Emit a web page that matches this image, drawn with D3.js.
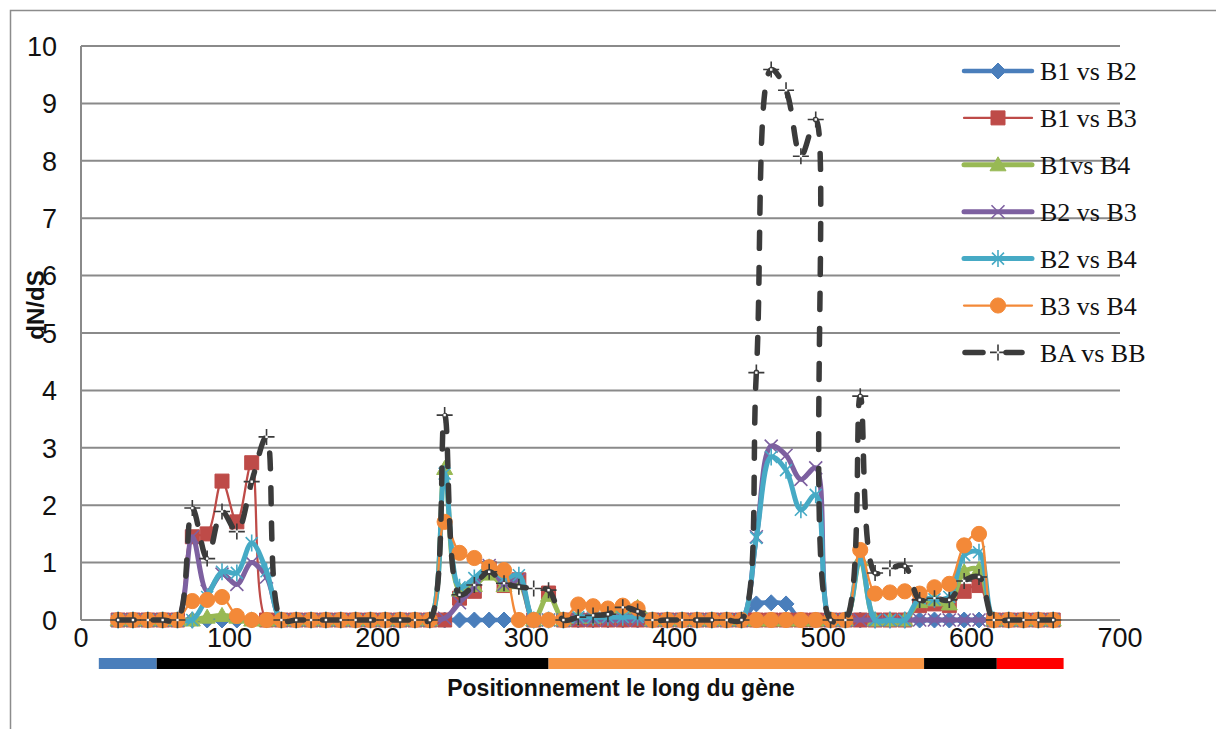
<!DOCTYPE html>
<html>
<head>
<meta charset="utf-8">
<script src="https://cdn.jsdelivr.net/npm/d3@7"></script>
<style>
  body { margin: 0; background: #fff; }
  svg { display: block; }
</style>
</head>
<body>
<svg id="chart" width="1216" height="729"></svg>
<script>
// Window centres along the gene (codon position)
const positions = [
  25, 35, 45, 55, 65, 75, 85, 95, 105, 115,
  125, 135, 145, 155, 165, 175, 185, 195, 205, 215,
  225, 235, 245, 255, 265, 275, 285, 295, 305, 315,
  325, 335, 345, 355, 365, 375, 385, 395, 405, 415,
  425, 435, 445, 455, 465, 475, 485, 495, 505, 515,
  525, 535, 545, 555, 565, 575, 585, 595, 605, 615,
  625, 635, 645, 655
];

// dN/dS per window for each pairwise comparison
const b1b2 = [
  0, 0, 0, 0, 0, 0, 0, 0, 0, 0,
  0, 0, 0, 0, 0, 0, 0, 0, 0, 0,
  0, 0, 0, 0, 0, 0, 0, 0, 0, 0,
  0, 0, 0, 0, 0, 0, 0, 0, 0, 0,
  0, 0, 0, 0.28, 0.3, 0.28, 0, 0, 0, 0,
  0, 0, 0, 0, 0, 0, 0, 0, 0, 0,
  0, 0, 0, 0
];
const b1b3 = [
  0, 0, 0, 0, 0, 1.45, 1.5, 2.42, 1.71, 2.74,
  0, 0, 0, 0, 0, 0, 0, 0, 0, 0,
  0, 0, 0, 0.38, 0.5, 0.9, 0.6, 0.7, 0, 0.47,
  0, 0, 0, 0, 0, 0, 0, 0, 0, 0,
  0, 0, 0, 0, 0, 0, 0, 0, 0, 0,
  0, 0, 0, 0, 0.25, 0.28, 0.25, 0.5, 0.6, 0,
  0, 0, 0, 0
];
const b1b4 = [
  0, 0, 0, 0, 0, 0, 0.05, 0.08, 0.05, 0,
  0, 0, 0, 0, 0, 0, 0, 0, 0, 0,
  0, 0, 2.64, 0.52, 0.6, 0.8, 0.6, 0.65, 0, 0.43,
  0, 0.05, 0.05, 0.1, 0.22, 0.22, 0, 0, 0, 0,
  0, 0, 0, 0, 0, 0, 0, 0, 0, 0,
  1.05, 0, 0, 0, 0.32, 0.35, 0.28, 0.84, 0.88, 0,
  0, 0, 0, 0
];
const b2b3 = [
  0, 0, 0, 0, 0, 1.45, 0.5, 0.8, 0.62, 1.0,
  0.75, 0, 0, 0, 0, 0, 0, 0, 0, 0,
  0, 0, 0.03, 0.3, 0.58, 0.95, 0.62, 0.7, 0, 0,
  0, 0, 0, 0, 0, 0, 0, 0, 0, 0,
  0, 0, 0, 1.45, 3.03, 2.87, 2.45, 2.65, 0, 0,
  0, 0, 0, 0, 0, 0, 0, 0, 0, 0,
  0, 0, 0, 0
];
const b2b4 = [
  0, 0, 0, 0, 0, 0, 0.4, 0.84, 0.82, 1.34,
  0.85, 0, 0, 0, 0, 0, 0, 0, 0, 0,
  0, 0, 2.55, 0.57, 0.73, 0.92, 0.73, 0.78, 0, 0,
  0, 0.05, 0.05, 0.05, 0.05, 0.05, 0, 0, 0, 0,
  0, 0, 0, 1.43, 2.84, 2.61, 1.92, 2.18, 0, 0,
  1.1, 0, 0, 0, 0.38, 0.36, 0.4, 1.13, 1.18, 0,
  0, 0, 0, 0
];
const b3b4 = [
  0, 0, 0, 0, 0, 0.33, 0.35, 0.4, 0.07, 0,
  0, 0, 0, 0, 0, 0, 0, 0, 0, 0,
  0, 0, 1.71, 1.17, 1.08, 0.92, 0.87, 0, 0, 0,
  0, 0.27, 0.24, 0.2, 0.25, 0.2, 0, 0, 0, 0,
  0, 0, 0, 0, 0, 0, 0, 0, 0, 0,
  1.22, 0.46, 0.48, 0.5, 0.46, 0.57, 0.63, 1.3, 1.5, 0,
  0, 0, 0, 0
];
const babb = [
  0, 0, 0, 0, 0, 1.95, 1.07, 1.89, 1.54, 2.41,
  3.19, 0, 0, 0, 0, 0, 0, 0, 0, 0,
  0, 0, 3.57, 0.44, 0.61, 0.84, 0.64, 0.58, 0.55, 0.52,
  0, 0.05, 0.08, 0.1, 0.22, 0.15, 0, 0, 0, 0,
  0, 0, 0, 4.31, 9.59, 9.23, 8.08, 8.72, 0, 0,
  3.9, 0.82, 0.9, 0.94, 0.35, 0.38, 0.35, 0.68, 0.75, 0,
  0, 0, 0, 0
];

const seriesNames = ["B1 vs B2", "B1 vs B3", "B1vs B4", "B2 vs B3", "B2 vs B4", "B3 vs B4", "BA vs BB"];
const seriesValues = [b1b2, b1b3, b1b4, b2b3, b2b4, b3b4, babb];

// Axis ticks
const xTicks = [0, 100, 200, 300, 400, 500, 600, 700];
const yTicks = [0, 1, 2, 3, 4, 5, 6, 7, 8, 9, 10];

// Gene regions drawn under the axis (start, end in codons)
const regionStart = [12, 51, 315, 568, 617];
const regionEnd   = [51, 315, 568, 617, 662];
const regionKind  = [0, 1, 2, 1, 3];

// ---------- styling ----------
const styles = [
  { color: "#4a7ebb", width: 4.5, marker: "diamond" },
  { color: "#be4b48", width: 2.25, marker: "square" },
  { color: "#98b954", width: 5, marker: "triangle" },
  { color: "#7d60a0", width: 5, marker: "x" },
  { color: "#46aac5", width: 5, marker: "star" },
  { color: "#f38938", width: 2.25, marker: "circle" },
  { color: "#3b3b3b", width: 5.5, marker: "plus", dash: "16,19" }
];
const regionColor = d3.scaleOrdinal().domain([0, 1, 2, 3])
  .range(["#4a7ebb", "#000000", "#f79646", "#ff0000"]);

const svg = d3.select("#chart");
const x = d3.scaleLinear().domain([0, 700]).range([81, 1120]);
const y = d3.scaleLinear().domain([0, 10]).range([620, 46]);
const gridColor = "#8a8a8a";

// outer frame
svg.append("path")
  .attr("d", "M10.5,729 V10.5 H1216")
  .attr("fill", "none").attr("stroke", "#8c8c8c").attr("stroke-width", 1.5);

// horizontal gridlines
svg.append("g").selectAll("line")
  .data(yTicks.filter(d => d > 0)).join("line")
  .attr("x1", x(0)).attr("x2", x(700))
  .attr("y1", d => y(d)).attr("y2", d => y(d))
  .attr("stroke", gridColor).attr("stroke-width", 2);

// axes lines
svg.append("line").attr("x1", x(0)).attr("x2", x(0)).attr("y1", y(10)).attr("y2", y(0))
  .attr("stroke", gridColor).attr("stroke-width", 2);
svg.append("line").attr("x1", x(0)).attr("x2", x(700)).attr("y1", y(0)).attr("y2", y(0))
  .attr("stroke", gridColor).attr("stroke-width", 2);

const tickFont = "'Liberation Sans Narrow', 'Liberation Sans', sans-serif";

// y tick labels
svg.append("g").selectAll("text")
  .data(yTicks).join("text")
  .attr("x", 57).attr("y", d => y(d))
  .attr("dy", "0.36em")
  .attr("text-anchor", "end")
  .attr("font-family", tickFont).attr("font-size", 27)
  .attr("fill", "#111")
  .text(d => d);

// x tick labels
svg.append("g").selectAll("text")
  .data(xTicks).join("text")
  .attr("x", d => x(d)).attr("y", 647)
  .attr("text-anchor", "middle")
  .attr("font-family", tickFont).attr("font-size", 27)
  .attr("fill", "#111")
  .text(d => d);

// gene region bar
svg.append("g").selectAll("rect")
  .data(regionStart.map((s, i) => ({ s, e: regionEnd[i], k: regionKind[i] }))).join("rect")
  .attr("x", d => x(d.s)).attr("width", d => x(d.e) - x(d.s))
  .attr("y", 658).attr("height", 11)
  .attr("fill", d => regionColor(d.k));

// axis titles
svg.append("text")
  .attr("x", 621).attr("y", 696)
  .attr("text-anchor", "middle")
  .attr("font-family", "'Liberation Sans Narrow', 'Liberation Sans', sans-serif")
  .attr("font-weight", "bold").attr("font-size", 23)
  .attr("fill", "#111")
  .text("Positionnement le long du gène");

svg.append("text")
  .attr("transform", "translate(44,305) rotate(-90)")
  .attr("text-anchor", "middle")
  .attr("font-family", "'Liberation Sans', sans-serif")
  .attr("font-weight", "bold").attr("font-size", 24)
  .attr("fill", "#111")
  .text("dN/dS");

// ---------- marker shapes ----------
function markerPath(kind) {
  switch (kind) {
    case "diamond": return "M0,-8L8,0L0,8L-8,0Z";
    case "square": return "M-7,-7H7V7H-7Z";
    case "triangle": return "M0,-8L8,6H-8Z";
    case "circle": return d3.symbol(d3.symbolCircle, 180)();
    case "x": return "M-6.5,-6.5L6.5,6.5M-6.5,6.5L6.5,-6.5";
    case "star": return "M-6,-6L6,6M-6,6L6,-6M0,-8.5V8.5";
    case "plus": return "M-8,0H8M0,-8V8";
  }
}
function drawMarker(g, kind, color) {
  const filled = ["diamond", "square", "triangle", "circle"].includes(kind);
  const p = g.append("path").attr("d", markerPath(kind));
  if (filled) {
    p.attr("fill", color).attr("stroke", color).attr("stroke-width", 1);
  } else {
    p.attr("fill", "none").attr("stroke", color).attr("stroke-width", 1.6);
    if (kind === "plus") {
      g.append("rect").attr("x", -1.2).attr("y", -1.2).attr("width", 2.4).attr("height", 2.4)
        .attr("fill", "#fff");
    }
  }
}

// ---------- series (smoothed lines) ----------
const line = d3.line()
  .x((d, i) => x(positions[i]))
  .y(d => y(d))
  .curve(d3.curveCatmullRom.alpha(0.5));

const plot = svg.append("g");
seriesValues.forEach((vals, si) => {
  const st = styles[si];
  const g = plot.append("g");
  g.append("path")
    .attr("d", line(vals))
    .attr("fill", "none")
    .attr("stroke", st.color)
    .attr("stroke-width", st.width)
    .attr("stroke-linecap", "round")
    .attr("stroke-linejoin", "round")
    .attr("stroke-dasharray", st.dash || null);
  g.selectAll("g.m")
    .data(vals).join("g").attr("class", "m")
    .attr("transform", (d, i) => `translate(${x(positions[i])},${y(d)})`)
    .each(function () { drawMarker(d3.select(this), st.marker, st.color); });
});

// ---------- legend ----------
const legend = svg.append("g");
seriesNames.forEach((name, i) => {
  const st = styles[i];
  const ly = 71 + i * 46.9;
  const g = legend.append("g").attr("transform", `translate(0,${ly})`);
  if (st.dash) {
    g.append("line").attr("x1", 965).attr("x2", 983).attr("y1", 0).attr("y2", 0)
      .attr("stroke", st.color).attr("stroke-width", st.width).attr("stroke-linecap", "round");
    g.append("line").attr("x1", 1006).attr("x2", 1022).attr("y1", 0).attr("y2", 0)
      .attr("stroke", st.color).attr("stroke-width", st.width).attr("stroke-linecap", "round");
  } else {
    g.append("line").attr("x1", 964).attr("x2", 1032).attr("y1", 0).attr("y2", 0)
      .attr("stroke", st.color).attr("stroke-width", st.width).attr("stroke-linecap", "round");
  }
  const m = g.append("g").attr("transform", "translate(998,0)");
  drawMarker(m, st.marker, st.color);
  g.append("text")
    .attr("x", 1040).attr("y", 0).attr("dy", "0.35em")
    .attr("font-family", "'Liberation Serif', 'DejaVu Serif', serif")
    .attr("font-size", 26).attr("fill", "#111")
    .text(name);
});
</script>
</body>
</html>
